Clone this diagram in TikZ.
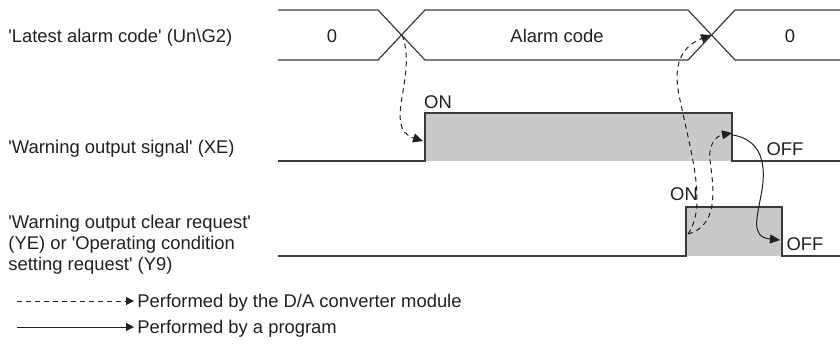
\documentclass[tikz,border=0pt]{standalone}
\usepackage{fontspec}
\setmainfont{Liberation Sans}
\usepackage{tikz}
\usetikzlibrary{arrows.meta, positioning, calc}
\definecolor{ink}{HTML}{231F20}
\definecolor{wire}{HTML}{3A3A3A}
\definecolor{pulse}{HTML}{C8C9CB}
\newcommand{\sq}{\textquotesingle}

\begin{document}
\begin{tikzpicture}[
  x=0.5pt, y=-0.5pt,
  every node/.style={font=\fontsize{9.2pt}{9pt}\selectfont, text=ink, inner sep=0pt},
  sigline/.style={wire, line width=0.6pt},
  siglabel/.style={anchor=base west, align=left},
  modarrow/.style={-{Triangle[length=5pt, width=4.5pt]}, ink, line width=0.5pt, dash pattern=on 2.5pt off 2pt},
  progarrow/.style={-{Triangle[length=5pt, width=4.5pt]}, ink, line width=0.5pt},
  legarrow/.style={-{Triangle[length=4pt, width=4pt]}, ink, line width=0.5pt, shorten >=1.5pt}
]
  \useasboundingbox (0,0) rectangle (840,345);

  % signal names on the left
  \node[siglabel] (alarmName) at (8,42) {\sq Latest alarm code\sq{} (Un\textbackslash G2)};
  \node[siglabel] (xeName) at (8,153) {\sq Warning output signal\sq{} (XE)};
  \node[siglabel, anchor=north west, font=\fontsize{9.2pt}{10.5pt}\selectfont] (yeName) at (8,215) {\sq Warning output clear request\sq\\(YE) or \sq Operating condition\\setting request\sq{} (Y9)};

  % alarm code bus
  \draw[sigline] (278,10) -- (378,10) -- (425,60) -- (688,60) -- (735,10) -- (840,10);
  \draw[sigline] (278,60) -- (378,60) -- (425,10) -- (688,10) -- (735,60) -- (840,60);
  \node (busZero) at (332,36) {0};
  \node (busCode) at (557,36) {Alarm code};
  \node (busClear) at (790,36) {0};
  \coordinate (cross1) at (402,35);
  \coordinate (cross2) at (711,35);

  % XE
  \fill[pulse] (425,113) rectangle (732,161);
  \draw[sigline] (278,161) -- (425,161) -- (425,113) -- (732,113) -- (732,161) -- (840,161);
  \node (xeOnTxt) at (438,102) {ON};
  \node (xeOffTxt) at (785,149) {OFF};
  \coordinate (xeOn) at (423,141);
  \coordinate (xeOff) at (732,133);

  % YE
  \fill[pulse] (686,207) rectangle (782,256);
  \draw[sigline] (278,256) -- (686,256) -- (686,207) -- (782,207) -- (782,256) -- (840,256);
  \node (yeOnTxt) at (684,194) {ON};
  \node (yeOffTxt) at (805,244) {OFF};
  \coordinate (yeOn) at (688,234);
  \coordinate (yeOff) at (780,240);

  % handshakes
  \draw[modarrow] (cross1) .. controls (418,75) and (382,128) .. (xeOn);
  \draw[modarrow] (yeOn) .. controls (708,205) and (690,150) .. (679,95) .. controls (672,60) and (685,45) .. (cross2);
  \draw[modarrow] (yeOn) .. controls (722,225) and (712,180) .. (710,160) .. controls (708,145) and (716,136) .. (xeOff);
  \draw[progarrow] (733,135) .. controls (762,140) and (766,165) .. (762,190) .. controls (757,218) and (750,237) .. (yeOff);

  % legend
  \node[anchor=base west] (legMod) at (137,307) {Performed by the D/A converter module};
  \node[anchor=base west] (legProg) at (137,333) {Performed by a program};
  \coordinate (legModStart) at (17,301);
  \coordinate (legProgStart) at (17,327);
  \draw[legarrow, dash pattern=on 2.5pt off 2pt] (legModStart) -- (legModStart -| legMod.west);
  \draw[legarrow] (legProgStart) -- (legProgStart -| legProg.west);
\end{tikzpicture}
\end{document}
